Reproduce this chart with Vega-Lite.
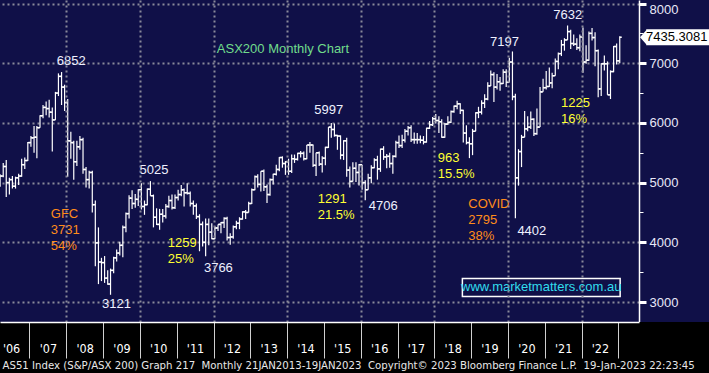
{
  "$schema": "https://vega.github.io/schema/vega-lite/v6.json",
  "width": 639,
  "height": 322,
  "autosize": {"type": "none"},
  "padding": {"left": 0, "top": 0, "right": 70, "bottom": 51},
  "background": "#101048",
  "config": {"view": {"stroke": null, "fill": "#101048"}, "font": "Liberation Sans"},
  "datasets": {
    "ohlc": [
      {"d":"2006/03/15","o":4950,"h":5140,"l":4930,"c":5110},
      {"d":"2006/04/15","o":5110,"h":5330,"l":5090,"c":5270},
      {"d":"2006/05/15","o":5270,"h":5380,"l":4760,"c":5000},
      {"d":"2006/06/15","o":5000,"h":5080,"l":4800,"c":5050},
      {"d":"2006/07/15","o":5050,"h":5110,"l":4900,"c":4940},
      {"d":"2006/08/15","o":4940,"h":5100,"l":4900,"c":5080},
      {"d":"2006/09/15","o":5080,"h":5150,"l":4960,"c":5110},
      {"d":"2006/10/15","o":5110,"h":5400,"l":5100,"c":5300},
      {"d":"2006/11/15","o":5300,"h":5420,"l":5230,"c":5370},
      {"d":"2006/12/15","o":5370,"h":5680,"l":5360,"c":5670},
      {"d":"2007/01/15","o":5670,"h":5780,"l":5600,"c":5750},
      {"d":"2007/02/15","o":5750,"h":5950,"l":5500,"c":5760},
      {"d":"2007/03/15","o":5760,"h":5950,"l":5410,"c":5920},
      {"d":"2007/04/15","o":5920,"h":6130,"l":5920,"c":6120},
      {"d":"2007/05/15","o":6120,"h":6300,"l":6080,"c":6260},
      {"d":"2007/06/15","o":6260,"h":6360,"l":6130,"c":6240},
      {"d":"2007/07/15","o":6240,"h":6390,"l":6090,"c":6180},
      {"d":"2007/08/15","o":6180,"h":6260,"l":5520,"c":6050},
      {"d":"2007/09/15","o":6050,"h":6520,"l":6050,"c":6500},
      {"d":"2007/10/15","o":6500,"h":6830,"l":6450,"c":6780},
      {"d":"2007/11/15","o":6780,"h":6852,"l":6300,"c":6600},
      {"d":"2007/12/15","o":6600,"h":6640,"l":6200,"c":6340},
      {"d":"2008/01/15","o":6340,"h":6400,"l":5100,"c":5700},
      {"d":"2008/02/15","o":5700,"h":5850,"l":5400,"c":5670},
      {"d":"2008/03/15","o":5670,"h":5700,"l":5050,"c":5350},
      {"d":"2008/04/15","o":5350,"h":5700,"l":5280,"c":5600},
      {"d":"2008/05/15","o":5600,"h":5780,"l":5550,"c":5720},
      {"d":"2008/06/15","o":5720,"h":5750,"l":5150,"c":5220},
      {"d":"2008/07/15","o":5220,"h":5260,"l":4920,"c":5050},
      {"d":"2008/08/15","o":5050,"h":5200,"l":4900,"c":5170},
      {"d":"2008/09/15","o":5170,"h":5200,"l":4500,"c":4630},
      {"d":"2008/10/15","o":4630,"h":4700,"l":3600,"c":3990},
      {"d":"2008/11/15","o":3990,"h":4250,"l":3300,"c":3670},
      {"d":"2008/12/15","o":3670,"h":3740,"l":3350,"c":3660},
      {"d":"2009/01/15","o":3660,"h":3770,"l":3320,"c":3400},
      {"d":"2009/02/15","o":3400,"h":3530,"l":3290,"c":3300},
      {"d":"2009/03/15","o":3300,"h":3560,"l":3121,"c":3530},
      {"d":"2009/04/15","o":3530,"h":3760,"l":3480,"c":3740},
      {"d":"2009/05/15","o":3740,"h":3880,"l":3680,"c":3820},
      {"d":"2009/06/15","o":3820,"h":4010,"l":3780,"c":3950},
      {"d":"2009/07/15","o":3950,"h":4280,"l":3750,"c":4250},
      {"d":"2009/08/15","o":4250,"h":4500,"l":4170,"c":4480},
      {"d":"2009/09/15","o":4480,"h":4790,"l":4400,"c":4740},
      {"d":"2009/10/15","o":4740,"h":4870,"l":4560,"c":4650},
      {"d":"2009/11/15","o":4650,"h":4810,"l":4580,"c":4720},
      {"d":"2009/12/15","o":4720,"h":4890,"l":4610,"c":4880},
      {"d":"2010/01/15","o":4880,"h":4990,"l":4550,"c":4600},
      {"d":"2010/02/15","o":4600,"h":4700,"l":4460,"c":4630},
      {"d":"2010/03/15","o":4630,"h":4900,"l":4620,"c":4890},
      {"d":"2010/04/15","o":4890,"h":5025,"l":4780,"c":4780},
      {"d":"2010/05/15","o":4780,"h":4800,"l":4250,"c":4420},
      {"d":"2010/06/15","o":4420,"h":4570,"l":4290,"c":4300},
      {"d":"2010/07/15","o":4300,"h":4560,"l":4210,"c":4470},
      {"d":"2010/08/15","o":4470,"h":4560,"l":4330,"c":4440},
      {"d":"2010/09/15","o":4440,"h":4640,"l":4400,"c":4600},
      {"d":"2010/10/15","o":4600,"h":4780,"l":4580,"c":4700},
      {"d":"2010/11/15","o":4700,"h":4800,"l":4550,"c":4580},
      {"d":"2010/12/15","o":4580,"h":4800,"l":4560,"c":4750},
      {"d":"2011/01/15","o":4750,"h":4880,"l":4700,"c":4800},
      {"d":"2011/02/15","o":4800,"h":4960,"l":4770,"c":4880},
      {"d":"2011/03/15","o":4880,"h":4900,"l":4600,"c":4830},
      {"d":"2011/04/15","o":4830,"h":4990,"l":4800,"c":4820},
      {"d":"2011/05/15","o":4820,"h":4850,"l":4600,"c":4650},
      {"d":"2011/06/15","o":4650,"h":4700,"l":4460,"c":4610},
      {"d":"2011/07/15","o":4610,"h":4650,"l":4390,"c":4430},
      {"d":"2011/08/15","o":4430,"h":4470,"l":3850,"c":4300},
      {"d":"2011/09/15","o":4300,"h":4350,"l":3930,"c":4000},
      {"d":"2011/10/15","o":4000,"h":4400,"l":3766,"c":4300},
      {"d":"2011/11/15","o":4300,"h":4400,"l":3950,"c":4170},
      {"d":"2011/12/15","o":4170,"h":4320,"l":4050,"c":4060},
      {"d":"2012/01/15","o":4060,"h":4270,"l":4050,"c":4240},
      {"d":"2012/02/15","o":4240,"h":4300,"l":4190,"c":4300},
      {"d":"2012/03/15","o":4300,"h":4340,"l":4150,"c":4330},
      {"d":"2012/04/15","o":4330,"h":4420,"l":4240,"c":4400},
      {"d":"2012/05/15","o":4400,"h":4430,"l":4030,"c":4080},
      {"d":"2012/06/15","o":4080,"h":4150,"l":3960,"c":4090},
      {"d":"2012/07/15","o":4090,"h":4280,"l":4060,"c":4260},
      {"d":"2012/08/15","o":4260,"h":4360,"l":4220,"c":4320},
      {"d":"2012/09/15","o":4320,"h":4420,"l":4220,"c":4390},
      {"d":"2012/10/15","o":4390,"h":4520,"l":4380,"c":4510},
      {"d":"2012/11/15","o":4510,"h":4540,"l":4390,"c":4500},
      {"d":"2012/12/15","o":4500,"h":4680,"l":4500,"c":4650},
      {"d":"2013/01/15","o":4650,"h":4900,"l":4640,"c":4880},
      {"d":"2013/02/15","o":4880,"h":5120,"l":4870,"c":5100},
      {"d":"2013/03/15","o":5100,"h":5140,"l":4920,"c":4970},
      {"d":"2013/04/15","o":4970,"h":5190,"l":4850,"c":5190},
      {"d":"2013/05/15","o":5190,"h":5220,"l":4860,"c":4930},
      {"d":"2013/06/15","o":4930,"h":4970,"l":4660,"c":4800},
      {"d":"2013/07/15","o":4800,"h":5070,"l":4780,"c":5050},
      {"d":"2013/08/15","o":5050,"h":5150,"l":4970,"c":5140},
      {"d":"2013/09/15","o":5140,"h":5300,"l":5120,"c":5220},
      {"d":"2013/10/15","o":5220,"h":5430,"l":5190,"c":5420},
      {"d":"2013/11/15","o":5420,"h":5440,"l":5250,"c":5320},
      {"d":"2013/12/15","o":5320,"h":5360,"l":5130,"c":5350},
      {"d":"2014/01/15","o":5350,"h":5400,"l":5130,"c":5190},
      {"d":"2014/02/15","o":5190,"h":5470,"l":5160,"c":5400},
      {"d":"2014/03/15","o":5400,"h":5470,"l":5330,"c":5390},
      {"d":"2014/04/15","o":5390,"h":5500,"l":5370,"c":5490},
      {"d":"2014/05/15","o":5490,"h":5530,"l":5420,"c":5490},
      {"d":"2014/06/15","o":5490,"h":5520,"l":5370,"c":5400},
      {"d":"2014/07/15","o":5400,"h":5630,"l":5390,"c":5630},
      {"d":"2014/08/15","o":5630,"h":5680,"l":5500,"c":5630},
      {"d":"2014/09/15","o":5630,"h":5640,"l":5260,"c":5290},
      {"d":"2014/10/15","o":5290,"h":5500,"l":5110,"c":5500},
      {"d":"2014/11/15","o":5500,"h":5520,"l":5280,"c":5310},
      {"d":"2014/12/15","o":5310,"h":5440,"l":5170,"c":5410},
      {"d":"2015/01/15","o":5410,"h":5600,"l":5290,"c":5590},
      {"d":"2015/02/15","o":5590,"h":5930,"l":5580,"c":5930},
      {"d":"2015/03/15","o":5930,"h":5997,"l":5750,"c":5890},
      {"d":"2015/04/15","o":5890,"h":5990,"l":5770,"c":5790},
      {"d":"2015/05/15","o":5790,"h":5800,"l":5550,"c":5780},
      {"d":"2015/06/15","o":5780,"h":5790,"l":5390,"c":5460},
      {"d":"2015/07/15","o":5460,"h":5710,"l":5380,"c":5700},
      {"d":"2015/08/15","o":5700,"h":5750,"l":5100,"c":5210},
      {"d":"2015/09/15","o":5210,"h":5270,"l":4920,"c":5020},
      {"d":"2015/10/15","o":5020,"h":5340,"l":5020,"c":5240},
      {"d":"2015/11/15","o":5240,"h":5340,"l":5010,"c":5170},
      {"d":"2015/12/15","o":5170,"h":5310,"l":4950,"c":5300},
      {"d":"2016/01/15","o":5300,"h":5300,"l":4880,"c":5000},
      {"d":"2016/02/15","o":5000,"h":5040,"l":4706,"c":4880},
      {"d":"2016/03/15","o":4880,"h":5150,"l":4880,"c":5080},
      {"d":"2016/04/15","o":5080,"h":5290,"l":4990,"c":5250},
      {"d":"2016/05/15","o":5250,"h":5410,"l":5240,"c":5380},
      {"d":"2016/06/15","o":5380,"h":5450,"l":5050,"c":5230},
      {"d":"2016/07/15","o":5230,"h":5570,"l":5180,"c":5560},
      {"d":"2016/08/15","o":5560,"h":5610,"l":5380,"c":5430},
      {"d":"2016/09/15","o":5430,"h":5480,"l":5240,"c":5440},
      {"d":"2016/10/15","o":5440,"h":5500,"l":5250,"c":5320},
      {"d":"2016/11/15","o":5320,"h":5460,"l":5150,"c":5440},
      {"d":"2016/12/15","o":5440,"h":5700,"l":5420,"c":5670},
      {"d":"2017/01/15","o":5670,"h":5790,"l":5580,"c":5620},
      {"d":"2017/02/15","o":5620,"h":5800,"l":5580,"c":5710},
      {"d":"2017/03/15","o":5710,"h":5900,"l":5670,"c":5860},
      {"d":"2017/04/15","o":5860,"h":5950,"l":5790,"c":5920},
      {"d":"2017/05/15","o":5920,"h":5960,"l":5680,"c":5720},
      {"d":"2017/06/15","o":5720,"h":5840,"l":5650,"c":5720},
      {"d":"2017/07/15","o":5720,"h":5830,"l":5650,"c":5720},
      {"d":"2017/08/15","o":5720,"h":5790,"l":5660,"c":5710},
      {"d":"2017/09/15","o":5710,"h":5780,"l":5640,"c":5680},
      {"d":"2017/10/15","o":5680,"h":5920,"l":5670,"c":5910},
      {"d":"2017/11/15","o":5910,"h":6030,"l":5900,"c":5970},
      {"d":"2017/12/15","o":5970,"h":6100,"l":5950,"c":6070},
      {"d":"2018/01/15","o":6070,"h":6150,"l":5990,"c":6040},
      {"d":"2018/02/15","o":6040,"h":6110,"l":5830,"c":6020},
      {"d":"2018/03/15","o":6020,"h":6060,"l":5750,"c":5760},
      {"d":"2018/04/15","o":5760,"h":6000,"l":5750,"c":5980},
      {"d":"2018/05/15","o":5980,"h":6110,"l":5970,"c":6010},
      {"d":"2018/06/15","o":6010,"h":6210,"l":6000,"c":6190},
      {"d":"2018/07/15","o":6190,"h":6290,"l":6170,"c":6280},
      {"d":"2018/08/15","o":6280,"h":6373,"l":6230,"c":6320},
      {"d":"2018/09/15","o":6320,"h":6330,"l":6150,"c":6210},
      {"d":"2018/10/15","o":6210,"h":6220,"l":5670,"c":5830},
      {"d":"2018/11/15","o":5830,"h":5960,"l":5640,"c":5670},
      {"d":"2018/12/15","o":5670,"h":5760,"l":5410,"c":5650},
      {"d":"2019/01/15","o":5650,"h":5900,"l":5460,"c":5860},
      {"d":"2019/02/15","o":5860,"h":6180,"l":5860,"c":6170},
      {"d":"2019/03/15","o":6170,"h":6270,"l":6080,"c":6180},
      {"d":"2019/04/15","o":6180,"h":6380,"l":6140,"c":6330},
      {"d":"2019/05/15","o":6330,"h":6480,"l":6250,"c":6400},
      {"d":"2019/06/15","o":6400,"h":6680,"l":6380,"c":6620},
      {"d":"2019/07/15","o":6620,"h":6880,"l":6620,"c":6810},
      {"d":"2019/08/15","o":6810,"h":6850,"l":6350,"c":6600},
      {"d":"2019/09/15","o":6600,"h":6820,"l":6560,"c":6690},
      {"d":"2019/10/15","o":6690,"h":6770,"l":6540,"c":6660},
      {"d":"2019/11/15","o":6660,"h":6900,"l":6650,"c":6850},
      {"d":"2019/12/15","o":6850,"h":6900,"l":6600,"c":6680},
      {"d":"2020/01/15","o":6680,"h":7090,"l":6680,"c":7020},
      {"d":"2020/02/15","o":7020,"h":7197,"l":6380,"c":6440},
      {"d":"2020/03/15","o":6440,"h":6490,"l":4402,"c":5080},
      {"d":"2020/04/15","o":5080,"h":5560,"l":4950,"c":5520},
      {"d":"2020/05/15","o":5520,"h":5800,"l":5260,"c":5760},
      {"d":"2020/06/15","o":5760,"h":6200,"l":5760,"c":5900},
      {"d":"2020/07/15","o":5900,"h":6110,"l":5860,"c":5930},
      {"d":"2020/08/15","o":5930,"h":6190,"l":5900,"c":6060},
      {"d":"2020/09/15","o":6060,"h":6080,"l":5780,"c":5820},
      {"d":"2020/10/15","o":5820,"h":6240,"l":5800,"c":5930},
      {"d":"2020/11/15","o":5930,"h":6600,"l":5930,"c":6520},
      {"d":"2020/12/15","o":6520,"h":6740,"l":6520,"c":6590},
      {"d":"2021/01/15","o":6590,"h":6870,"l":6560,"c":6610},
      {"d":"2021/02/15","o":6610,"h":6930,"l":6600,"c":6670},
      {"d":"2021/03/15","o":6670,"h":6840,"l":6580,"c":6790},
      {"d":"2021/04/15","o":6790,"h":7080,"l":6790,"c":7030},
      {"d":"2021/05/15","o":7030,"h":7180,"l":6900,"c":7160},
      {"d":"2021/06/15","o":7160,"h":7390,"l":7120,"c":7310},
      {"d":"2021/07/15","o":7310,"h":7420,"l":7210,"c":7390},
      {"d":"2021/08/15","o":7390,"h":7632,"l":7390,"c":7530},
      {"d":"2021/09/15","o":7530,"h":7560,"l":7240,"c":7330},
      {"d":"2021/10/15","o":7330,"h":7480,"l":7290,"c":7320},
      {"d":"2021/11/15","o":7320,"h":7420,"l":7220,"c":7260},
      {"d":"2021/12/15","o":7260,"h":7480,"l":7200,"c":7440},
      {"d":"2022/01/15","o":7440,"h":7600,"l":6840,"c":7020},
      {"d":"2022/02/15","o":7020,"h":7300,"l":6990,"c":7050},
      {"d":"2022/03/15","o":7050,"h":7530,"l":7040,"c":7500},
      {"d":"2022/04/15","o":7500,"h":7590,"l":7380,"c":7430},
      {"d":"2022/05/15","o":7430,"h":7520,"l":6950,"c":7210},
      {"d":"2022/06/15","o":7210,"h":7230,"l":6430,"c":6570},
      {"d":"2022/07/15","o":6570,"h":7000,"l":6450,"c":6990},
      {"d":"2022/08/15","o":6990,"h":7130,"l":6880,"c":6990},
      {"d":"2022/09/15","o":6990,"h":7030,"l":6470,"c":6470},
      {"d":"2022/10/15","o":6470,"h":6880,"l":6400,"c":6860},
      {"d":"2022/11/15","o":6860,"h":7290,"l":6850,"c":7280},
      {"d":"2022/12/15","o":7280,"h":7330,"l":6980,"c":7040},
      {"d":"2023/01/15","o":7040,"h":7450,"l":7000,"c":7435}
    ],
    "notes": [
      {"d":"2012/02/03","v":7238,"label":"ASX200 Monthly Chart","kind":"green"},
      {"d":"2007/09/28","v":7037,"label":"6852","kind":"white"},
      {"d":"2007/07/31","v":4474,"label":"GFC\n3731\n54%","kind":"orange"},
      {"d":"2009/12/27","v":5216,"label":"5025","kind":"white"},
      {"d":"2008/12/21","v":2962,"label":"3121","kind":"white"},
      {"d":"2010/10/04","v":3980,"label":"1259\n25%","kind":"yellow"},
      {"d":"2011/09/28","v":3570,"label":"3766","kind":"white"},
      {"d":"2014/09/28","v":6216,"label":"5997","kind":"white"},
      {"d":"2014/11/01","v":4724,"label":"1291\n21.5%","kind":"yellow"},
      {"d":"2016/03/21","v":4603,"label":"4706","kind":"white"},
      {"d":"2018/02/04","v":5407,"label":"963\n15.5%","kind":"yellow"},
      {"d":"2018/12/04","v":4642,"label":"COVID\n2795\n38%","kind":"orange"},
      {"d":"2019/07/07","v":7355,"label":"7197","kind":"white"},
      {"d":"2020/04/04","v":4184,"label":"4402","kind":"white"},
      {"d":"2021/03/27","v":7812,"label":"7632","kind":"white"},
      {"d":"2021/06/12","v":6328,"label":"1225\n16%","kind":"yellow"}
    ],
    "url": [{"d":"2020/11/27","v":3243,"label":"www.marketmatters.com.au"}],
    "last": [{"v":7435.3081,"label":"7435.3081"}]
  },
  "layer": [
    {
      "data": {"name": "ohlc"},
      "mark": {"type": "rule", "color": "white", "strokeWidth": 1.2},
      "encoding": {
        "x": {"field": "d", "type": "temporal",
              "scale": {"domain": [{"year":2006,"month":3,"date":14},{"year":2023,"month":7,"date":25}], "nice": false},
              "axis": {
                "values": [
                  {"year":2006,"month":7,"date":2},{"year":2007,"month":7,"date":2},
                  {"year":2008,"month":7,"date":2},{"year":2009,"month":7,"date":2},
                  {"year":2010,"month":7,"date":2},{"year":2011,"month":7,"date":2},
                  {"year":2012,"month":7,"date":2},{"year":2013,"month":7,"date":2},
                  {"year":2014,"month":7,"date":2},{"year":2015,"month":7,"date":2},
                  {"year":2016,"month":7,"date":2},{"year":2017,"month":7,"date":2},
                  {"year":2018,"month":7,"date":2},{"year":2019,"month":7,"date":2},
                  {"year":2020,"month":7,"date":2},{"year":2021,"month":7,"date":2},
                  {"year":2022,"month":7,"date":2},{"year":2023,"month":7,"date":2}
                ],
                "tickCount": 40,
                "tickOffset": -18.4, "labelOffset": 18.4,
                "labelExpr": "year(datum.value) >= 2023 ? '' : \"'\" + timeFormat(datum.value, '%y')",
                "tickSize": 36, "tickColor": "#d0d0d0", "tickWidth": 1,
                "domainColor": "white", "domainWidth": 1.5,
                "labelColor": "white", "labelFont": "DejaVu Sans Condensed", "labelFontSize": 12.5,
                "labelPadding": -16, "labelFlush": false, "labelOverlap": false, "labelBound": false,
                "grid": true, "gridColor": "#8a8a9a", "gridDash": [2, 3], "gridWidth": 2,
                "gridOpacity": {"condition": {"test": "year(datum.value) % 2 == 0", "value": 1}, "value": 0},
                "title": "AS51 Index (S&P/ASX 200) Graph 217\u00a0 Monthly 21JAN2013-19JAN2023\u00a0 Copyright© 2023 Bloomberg Finance L.P.\u00a0 19-Jan-2023 22:23:45",
                "titleAnchor": "start", "titleAlign": "left", "titleBaseline": "middle",
                "titleX": 2, "titleY": 43, "titleColor": "#e8e8e8",
                "titleFont": "DejaVu Sans Condensed", "titleFontSize": 11.3, "titleFontWeight": "normal",
                "zindex": 1
              }},
        "y": {"field": "l", "type": "quantitative",
              "scale": {"domain": [2665, 8059], "nice": false, "zero": false},
              "axis": {
                "orient": "right",
                "values": [3000, 3500, 4000, 4500, 5000, 5500, 6000, 6500, 7000, 7500, 8000],
                "tickCount": 30,
                "labelExpr": "datum.value % 1000 == 0 ? format(datum.value, 'd') : ''",
                "grid": true, "gridColor": "#8a8a9a", "gridDash": [2, 3], "gridWidth": 2,
                "gridOpacity": {"condition": {"test": "datum.value % 1000 == 0", "value": 1}, "value": 0},
                "tickColor": "white",
                "tickSize": {"condition": {"test": "datum.value % 1000 == 0", "value": 7}, "value": 4},
                "tickWidth": {"condition": {"test": "datum.value % 1000 == 0", "value": 3}, "value": 1},
                "domainColor": "white", "domainWidth": 1.5,
                "labelColor": "#e8e8f8", "labelFont": "Liberation Sans", "labelFontSize": 13,
                "labelPadding": 3, "labelFlush": 6, "labelOverlap": false,
                "title": null
              }},
        "y2": {"field": "h"}
      }
    },
    {
      "data": {"values": [{}]},
      "mark": {"type": "rect", "color": "black"},
      "encoding": {
        "x": {"datum": {"year":2006,"month":3,"date":14}, "type": "temporal"},
        "x2": {"datum": {"year":2025,"month":6,"date":20}},
        "y": {"datum": 2665, "type": "quantitative"},
        "y2": {"datum": 1811}
      }
    },
    {
      "data": {"name": "ohlc"},
      "mark": {"type": "rule", "color": "white", "strokeWidth": 1.5, "xOffset": -2, "x2Offset": 0},
      "encoding": {
        "x": {"field": "d", "type": "temporal"},
        "x2": {"field": "d"},
        "y": {"field": "o", "type": "quantitative"}
      }
    },
    {
      "data": {"name": "ohlc"},
      "mark": {"type": "rule", "color": "white", "strokeWidth": 1.5, "xOffset": 0, "x2Offset": 2},
      "encoding": {
        "x": {"field": "d", "type": "temporal"},
        "x2": {"field": "d"},
        "y": {"field": "c", "type": "quantitative"}
      }
    },
    {
      "data": {"name": "notes"},
      "mark": {"type": "text", "align": "left", "baseline": "middle", "fontSize": 13, "lineHeight": 16, "lineBreak": "\n", "font": "Liberation Sans"},
      "encoding": {
        "x": {"field": "d", "type": "temporal"},
        "y": {"field": "v", "type": "quantitative"},
        "text": {"field": "label"},
        "color": {"field": "kind", "type": "nominal", "legend": null,
                  "scale": {"domain": ["white", "yellow", "orange", "green"], "range": ["#eef0ff", "#ffff33", "#ff8c1a", "#70dc8c"]}}
      }
    },
    {
      "data": {"name": "url"},
      "mark": {"type": "point", "shape": "M -0.986 -0.114 L 0.986 -0.114 L 0.986 0.114 L -0.986 0.114 Z", "size": 25600, "filled": false, "stroke": "white", "strokeWidth": 1.5, "opacity": 1},
      "encoding": {
        "x": {"field": "d", "type": "temporal"},
        "y": {"field": "v", "type": "quantitative"}
      }
    },
    {
      "data": {"name": "url"},
      "mark": {"type": "text", "align": "center", "baseline": "middle", "fontSize": 13, "color": "#30dced", "font": "Liberation Sans"},
      "encoding": {
        "x": {"field": "d", "type": "temporal"},
        "y": {"field": "v", "type": "quantitative"},
        "text": {"field": "label"}
      }
    },
    {
      "data": {"name": "last"},
      "mark": {"type": "point", "shape": "M 0.0125 0 L 0.09 -0.0875 L 0.09 -0.1 L 0.95 -0.1 L 0.95 0.1 L 0.09 0.1 L 0.09 0.0875 Z", "size": 25600, "filled": true, "color": "white", "opacity": 1},
      "encoding": {
        "x": {"datum": {"year":2023,"month":7,"date":25}, "type": "temporal"},
        "y": {"field": "v", "type": "quantitative"}
      }
    },
    {
      "data": {"name": "last"},
      "mark": {"type": "text", "align": "left", "baseline": "middle", "dx": 7, "fontSize": 13, "color": "black", "font": "Liberation Sans"},
      "encoding": {
        "x": {"datum": {"year":2023,"month":7,"date":25}, "type": "temporal"},
        "y": {"field": "v", "type": "quantitative"},
        "text": {"field": "label"}
      }
    }
  ]
}
